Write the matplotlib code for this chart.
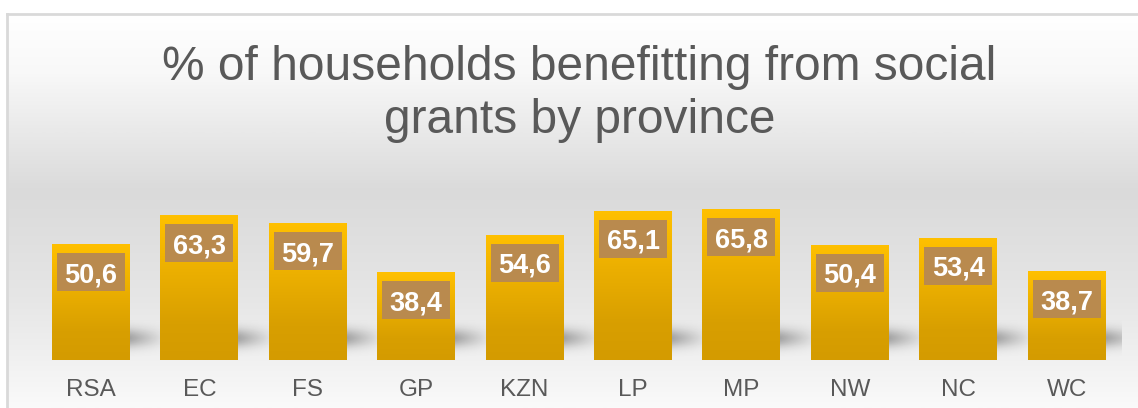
import numpy as np
import matplotlib

matplotlib.use("Agg")
import matplotlib.pyplot as plt
from matplotlib.colors import to_rgb
from matplotlib.patches import Rectangle

provinces = ["RSA", "EC", "FS", "GP", "KZN", "LP", "MP", "NW", "NC", "WC"]
pct_households = [50.6, 63.3, 59.7, 38.4, 54.6, 65.1, 65.8, 50.4, 53.4, 38.7]
title_lines = ["% of households benefitting from social", "grants by province"]

W, H = 1138, 408
TEXT_GREY = "#595959"
BAR_TOP = "#FFC000"
BAR_BOTTOM = "#D49B00"
BOX_BROWN = "#B98A4E"
YMAX = 70.0


def _vgrad(stops, n):
    """Vertical RGB gradient (n rows) from (position, colour) stops."""
    pos = np.array([p for p, _ in stops])
    cols = np.array([to_rgb(c) for _, c in stops])
    t = np.linspace(0, 1, n)
    return np.stack([np.interp(t, pos, cols[:, k]) for k in range(3)], axis=-1)[:, None, :]


fig = plt.figure(figsize=(W / 100, H / 100), dpi=100, facecolor="white")

# background panel with soft grey gradient and thin border
bg = fig.add_axes([0, 0, 1, 1])
bg.set_axis_off()
bg.set_xlim(0, W)
bg.set_ylim(H, 0)
panel = _vgrad(
    [(0.0, "#ffffff"), (0.15, "#f8f8f8"), (0.45, "#dadada"), (0.72, "#e6e6e6"),
     (0.87, "#f0f0f0"), (1.0, "#fafafa")],
    256,
)
bg.imshow(panel, extent=[7, W, H, 14], aspect="auto", zorder=0)
bg.plot([7, 7], [14, H], color="#d9d9d9", lw=2, zorder=1)
bg.plot([7, W], [14, 14], color="#d9d9d9", lw=2, zorder=1)

fig.text(579.5 / W, 1 - 80 / H, title_lines[0], ha="center", va="baseline",
         fontsize=34.5, color=TEXT_GREY, family="Liberation Sans")
fig.text(579.5 / W, 1 - 133 / H, title_lines[1], ha="center", va="baseline",
         fontsize=34.5, color=TEXT_GREY, family="Liberation Sans")

# main axes: bar base at y=360px, 2.29 px per percentage point
ax_left, ax_width = 36.8, 1084.0
ax_bottom, ax_height = H - 360, YMAX * 2.29
ax = fig.add_axes([ax_left / W, ax_bottom / H, ax_width / W, ax_height / H])
ax.patch.set_alpha(0)
for s in ax.spines.values():
    s.set_visible(False)
ax.set_xlim(-0.5, len(provinces) - 0.5)
ax.set_ylim(0, YMAX)
ax.set_yticks([])
x = np.arange(len(provinces))
ax.set_xticks(x)
ax.set_xticklabels(provinces, fontsize=17.5, color=TEXT_GREY, family="Liberation Sans")
ax.tick_params(axis="x", length=0, pad=14)

px_x = ax_width / len(provinces)  # px per category unit
px_y = ax_height / YMAX  # px per percentage point
bar_w = 78 / px_x

# soft drop shadows to the right of each bar
sh_w = 40 / px_x
sh_y0, sh_y1 = 2 / px_y, 40 / px_y
nx, ny = 40, 40
fx = np.linspace(1, 0, nx) ** 1.1
fy = np.exp(-((np.linspace(-1, 1, ny) + 0.05) / 0.5) ** 2)
shadow = np.zeros((ny, nx, 4))
shadow[..., 3] = 0.3 * fy[:, None] * fx[None, :]
for xi in x:
    ax.imshow(shadow, extent=[xi + bar_w / 2, xi + bar_w / 2 + sh_w, sh_y0, sh_y1],
              aspect="auto", zorder=1, interpolation="bilinear")

bars = ax.bar(x, pct_households, width=bar_w, color=BAR_BOTTOM, zorder=2)
bar_fill = _vgrad([(0.0, BAR_TOP), (0.15, "#F8BA00"), (0.75, "#D89F00"), (1.0, BAR_BOTTOM)], 128)
for rect in bars:
    x0, h = rect.get_x(), rect.get_height()
    im = ax.imshow(bar_fill, extent=[x0, x0 + rect.get_width(), 0, h],
                   aspect="auto", zorder=3)
    im.set_clip_path(rect)

# value boxes: 68x38 px, 9 px below bar top
box_w, box_h, box_gap = 68 / px_x, 38 / px_y, 9 / px_y
for xi, v in zip(x, pct_households):
    top = v - box_gap
    ax.add_patch(Rectangle((xi - box_w / 2, top - box_h), box_w, box_h,
                           facecolor=BOX_BROWN, edgecolor="none", zorder=4))
    ax.text(xi, top - box_h / 2, f"{v:.1f}".replace(".", ","), ha="center",
            va="center_baseline", fontsize=19.5, fontweight="bold", color="white",
            family="Liberation Sans", zorder=5)

ax.set_xlim(-0.5, len(provinces) - 0.5)
ax.set_ylim(0, YMAX)

fig.savefig("out.png", dpi=100)
